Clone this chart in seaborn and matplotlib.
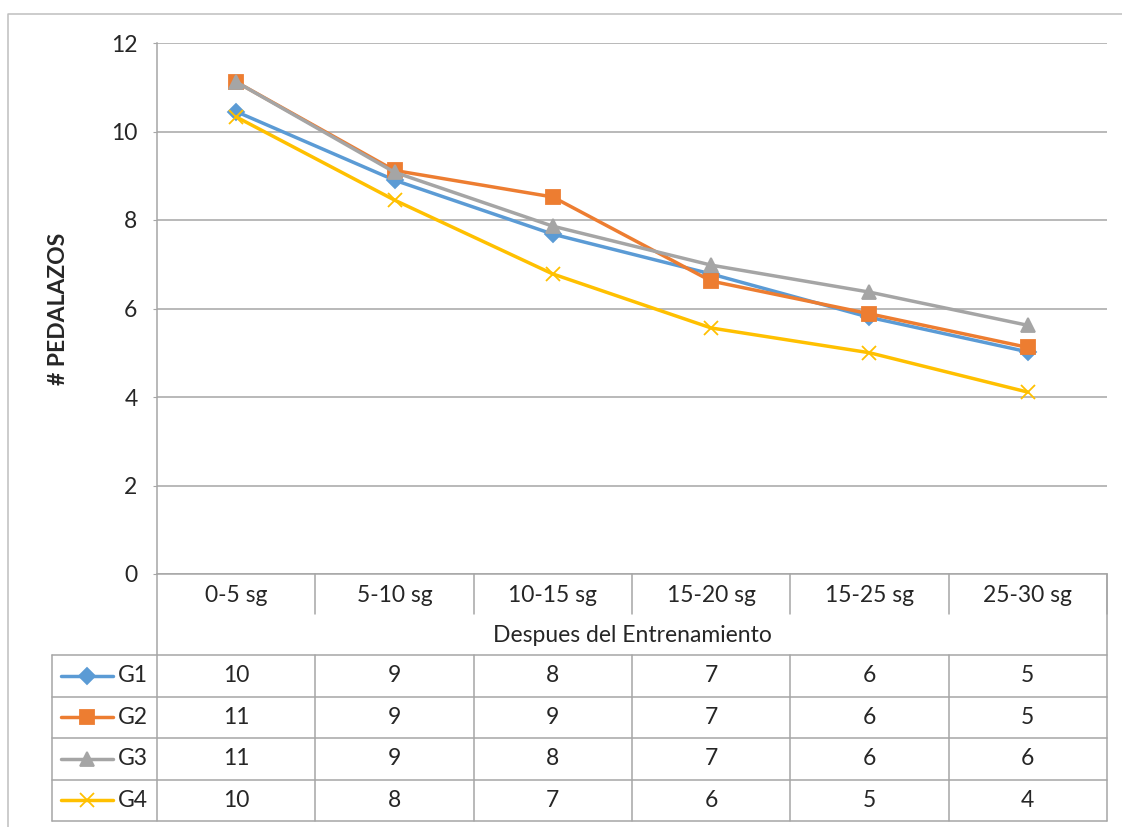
import matplotlib.pyplot as plt
import numpy as np
import pandas as pd
import seaborn as sns

### Data
categories = ['0-5 sg', '5-10 sg', '10-15 sg', '15-20 sg', '15-25 sg', '25-30 sg']
groups = ['G1', 'G2', 'G3', 'G4']
g1 = [10.45, 8.90, 7.68, 6.78, 5.80, 5.02]
g2 = [11.12, 9.12, 8.52, 6.62, 5.88, 5.12]
g3 = [11.12, 9.08, 7.86, 6.98, 6.37, 5.62]
g4 = [10.33, 8.45, 6.78, 5.56, 5.00, 4.11]
yticks = [0, 2, 4, 6, 8, 10, 12]

colors = {'G1': '#5B9BD5', 'G2': '#ED7D31', 'G3': '#A5A5A5', 'G4': '#FFC000'}
markers = {'G1': 'D', 'G2': 's', 'G3': '^', 'G4': 'x'}
msizes = {'G1': 8, 'G2': 10, 'G3': 10, 'G4': 10}

series = dict(zip(groups, [g1, g2, g3, g4]))
df = pd.DataFrame([
    {'pos': i, 'cat': c, 'grupo': g, 'val': v}
    for g in groups for i, (c, v) in enumerate(zip(categories, series[g]))
])

sns.set_style('white')
plt.rcParams['font.family'] = ['Lato', 'DejaVu Sans']
FS = 16.5

W, H = 1122, 827
fig = plt.figure(figsize=(W / 100, H / 100), dpi=100)

# overlay in pixel coords for the frame and the data table
bg = fig.add_axes([0, 0, 1, 1], zorder=0)
bg.set_xlim(0, W)
bg.set_ylim(H, 0)
bg.axis('off')

# plot area: x 157..1107, y 43..574 (pixels)
L, R, T, B = 157, 1107, 43, 574
ax = fig.add_axes([L / W, (H - B) / H, (R - L) / W, (B - T) / H], zorder=1)
ax.patch.set_alpha(0)

for g in groups:
    sub = df[df['grupo'] == g]
    sns.lineplot(data=sub, x='pos', y='val', color=colors[g], marker=markers[g],
                 markersize=msizes[g], markeredgewidth=1.3, markeredgecolor=colors[g],
                 linewidth=2.5, ax=ax)

ax.set_xlim(-0.5, len(categories) - 0.5)
ax.set_ylim(0, 12)
ax.set_yticks(yticks)
ax.set_yticklabels([str(t) for t in yticks], fontsize=FS)
ax.set_xticks([])
ax.set_xlabel('')
ax.set_ylabel('# PEDALAZOS', fontsize=FS, fontweight='bold', labelpad=30)
ax.yaxis.grid(True, color='#A6A6A6', linewidth=1.1)
ax.tick_params(axis='y', length=3, color='#A6A6A6', pad=11, direction='out', left=True)
for side in ['top', 'right']:
    ax.spines[side].set_visible(False)
for side in ['left', 'bottom']:
    ax.spines[side].set_color('#A6A6A6')
    ax.spines[side].set_linewidth(1.1)

# outer chart frame
gc = '#A6A6A6'
bg.plot([8, 8, W + 5], [H + 5, 14, 14], color='#BFBFBF', lw=1.1)

# data table below the axis
step = (R - L) / len(categories)
row_h = 41.5
rows_top = 655
for i, c in enumerate(categories):
    cx = L + step * (i + 0.5)
    bg.text(cx, 596, c, ha='center', va='center', fontsize=FS)
    bg.plot([L + step * (i + 1)] * 2, [B, 614], color=gc, lw=1.1)
bg.plot([R, R], [B, rows_top + row_h * 4], color=gc, lw=1.1)
bg.plot([L, L], [B, rows_top + row_h * 4], color=gc, lw=1.1)
bg.text((L + R) / 2, 635, 'Despues del Entrenamiento', ha='center', va='center', fontsize=FS)

x0 = 52
for k in range(5):
    y = rows_top + row_h * k
    bg.plot([x0, R], [y, y], color=gc, lw=1.1)
bg.plot([x0, x0], [rows_top, rows_top + row_h * 4], color=gc, lw=1.1)
for i in range(len(categories) - 1):
    xs = L + step * (i + 1)
    bg.plot([xs, xs], [rows_top, rows_top + row_h * 4], color=gc, lw=1.1)

for k, g in enumerate(groups):
    yc = rows_top + row_h * (k + 0.5)
    bg.plot([61, 113], [yc, yc], color=colors[g], lw=2.5)
    bg.plot([87], [yc], marker=markers[g], color=colors[g], markersize=msizes[g],
            markeredgewidth=1.3, markeredgecolor=colors[g])
    bg.text(118, yc, g, ha='left', va='center', fontsize=FS)
    for i, v in enumerate(series[g]):
        bg.text(L + step * (i + 0.5), yc, str(int(np.floor(v + 0.5))),
                ha='center', va='center', fontsize=FS)

plt.savefig('out.png', dpi=100)
plt.close()
